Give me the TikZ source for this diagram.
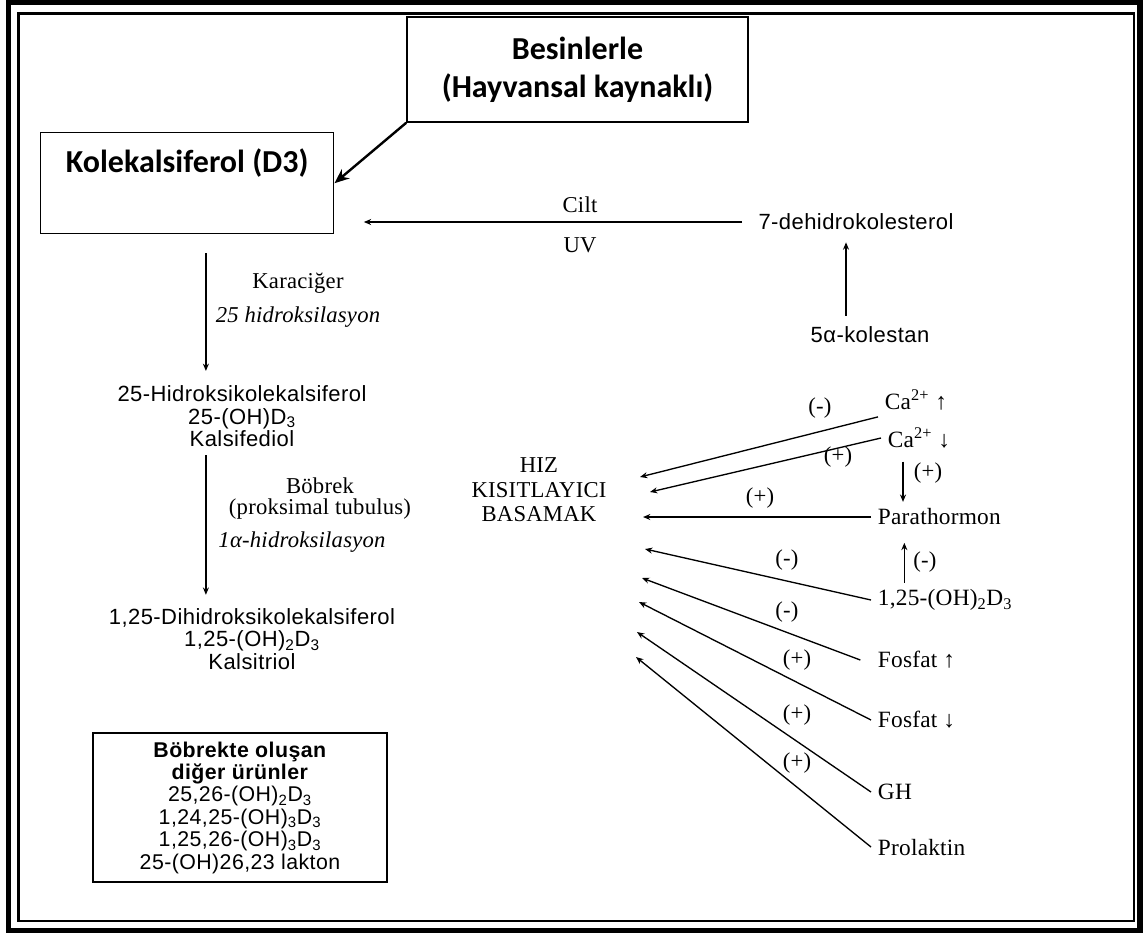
\documentclass[tikz,border=0pt]{standalone}
\usepackage{fontspec}
\setmainfont{Liberation Serif}[LetterSpace=1]
\newfontfamily\arialsp{Liberation Sans}[LetterSpace=2]
\newfontfamily\calibfont{Carlito}
\usetikzlibrary{arrows.meta}

\begin{document}
\begin{tikzpicture}[
    x=0.75pt, y=-0.75pt,
    every node/.style={inner sep=2pt},
    serif/.style={font=\fontsize{17}{15.75}\selectfont, align=center},
    sans/.style={font=\arialsp\fontsize{16.5}{16.9}\selectfont, align=center},
    boldbox/.style={draw, line width=1.1pt, font=\calibfont\bfseries\fontsize{24}{28.5}\selectfont, align=center, inner sep=0pt},
    rlabel/.style={font=\fontsize{17.5}{17}\selectfont, anchor=west, inner sep=5pt},
    sign/.style={font=\fontsize{17}{16}\selectfont},
    thin/.style={-{Stealth[length=5.5pt,width=4.5pt]}, line width=1pt},
    thick/.style={-{Stealth[length=11pt,width=9pt]}, line width=1.8pt}
]
\useasboundingbox (0,0) rectangle (1144,936);
\draw[line width=4pt] (8.5,2.5) rectangle (1140,930.5);
\draw[line width=2pt] (18.5,13.5) rectangle (1134,921);

\node[boldbox, minimum width=255.75pt, minimum height=78.75pt] (besin) at (577.5,69.5) {Besinlerle\\(Hayvansal kaynaklı)};
\node[boldbox, anchor=north west, minimum width=219.75pt, text height=30pt, text depth=45.75pt] (kole) at (40,132) {Kolekalsiferol (D3)};
\draw[thick] (besin.south west) -- (kole.east);

\node[sans] (dehidro) at (856,222) {7-dehidrokolesterol};
\node[serif] (cilt) at (580,205) {Cilt};
\node[serif] (uv) at (580,245) {UV};
\draw[thin, shorten <=10pt, shorten >=22pt] (dehidro.west) -- (kole.east |- dehidro.west);

\node[sans] (kolestan) at (870,335) {5α-kolestan};
\coordinate (kv) at ([xshift=-18pt]kolestan.north);
\draw[thin, shorten <=6pt, shorten >=7pt] (kv) -- (kv |- dehidro.south);

\node[serif] (karaciger) at (298,283) {Karaciğer};
\node[serif] (hidroks) at (298,317) {\itshape 25 hidroksilasyon};
\node[sans] (hidroksi) at (242,416.5) {25-Hidroksikolekalsiferol\\25-(OH)D\textsubscript{3}\\Kalsifediol};
\node[serif] (bobrek) at (320,498.5) {Böbrek\\(proksimal tubulus)};
\node[serif] (alfa) at (302,542) {\itshape 1α-hidroksilasyon};
\node[sans] (dihidroksi) at (252,639) {1,25-Dihidroksikolekalsiferol\\1,25-(OH)\textsubscript{2}D\textsubscript{3}\\Kalsitriol};

\coordinate (colx) at ([xshift=14pt]kole.south);
\draw[thin, shorten <=14pt, shorten >=9pt] (colx) -- (colx |- hidroksi.north);
\draw[thin, shorten <=4pt, shorten >=8pt] (colx |- hidroksi.south) -- (colx |- dihidroksi.north);

\node[draw, line width=0.9pt, minimum width=220.5pt, minimum height=111.75pt, sans, font=\arialsp\fontsize{16}{16.8}\selectfont] (diger) at (240,807.5) {\textbf{Böbrekte oluşan}\\\textbf{diğer ürünler}\\25,26-(OH)\textsubscript{2}D\textsubscript{3}\\1,24,25-(OH)\textsubscript{3}D\textsubscript{3}\\1,25,26-(OH)\textsubscript{3}D\textsubscript{3}\\25-(OH)26,23 lakton};

\node[serif, font=\fontsize{17}{18.4}\selectfont] (hiz) at (539,490) {HIZ\\KISITLAYICI\\BASAMAK};

\node[rlabel] (caup) at (878,400) {Ca\textsuperscript{2+} ↑};
\node[rlabel] (cadown) at (881,438) {Ca\textsuperscript{2+} ↓};
\node[rlabel] (parat) at (871,517) {Parathormon};
\node[rlabel] (dihid) at (871,600) {1,25-(OH)\textsubscript{2}D\textsubscript{3}};
\node[rlabel] (fosup) at (871,660) {Fosfat ↑};
\node[rlabel] (fosdown) at (871,720) {Fosfat ↓};
\node[rlabel] (gh) at (871,792) {GH};
\node[rlabel] (prol) at (871,847) {Prolaktin};

\coordinate (e1) at (640,477);
\coordinate (e2) at (650,492);
\coordinate (e3) at (643,517);
\coordinate (e4) at (645,549);
\coordinate (e5) at (642,578);
\coordinate (e6) at (639,602);
\coordinate (e7) at (637,632);
\coordinate (e8) at (636,657);

\draw[thin] (caup.south west) -- (e1);
\draw[thin] (cadown.west) -- (e2);
\draw[thin] (parat.west) -- (e3);
\draw[thin] (dihid.west) -- (e4);
\draw[thin] ([xshift=-8pt]fosup.west) -- (e5);
\draw[thin] (fosdown.west) -- (e6);
\draw[thin] (gh.west) -- (e7);
\draw[thin] (prol.west) -- (e8);

\coordinate (pv) at ([xshift=24pt]parat.north west);
\draw[thin, shorten <=5pt] (pv |- cadown.south) -- (pv);
\coordinate (pu) at ([xshift=25pt]parat.south west);
\draw[thin, shorten >=8pt] (pu |- dihid.north) -- (pu);

\node[sign] (s1) at (820,408) {(-)};
\node[sign] (s2) at (838,457) {(+)};
\node[sign] (s3) at (928,473) {(+)};
\node[sign] (s4) at (760,498) {(+)};
\node[sign] (s5) at (787,560) {(-)};
\node[sign] (s6) at (925,562) {(-)};
\node[sign] (s7) at (787,612) {(-)};
\node[sign] (s8) at (797,660) {(+)};
\node[sign] (s9) at (797,715) {(+)};
\node[sign] (s10) at (797,763) {(+)};
\end{tikzpicture}
\end{document}
